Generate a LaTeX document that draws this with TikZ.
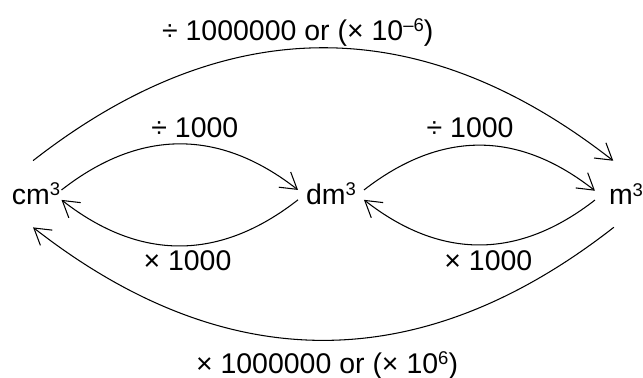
\documentclass[tikz,border=0pt]{standalone}
\usepackage{fontspec}
\setmainfont{Liberation Sans}
\usetikzlibrary{positioning,arrows.meta}
\newcommand{\expo}[1]{\raisebox{4.9pt}{\fontsize{10.5}{12}\selectfont #1}}

\begin{document}
\begin{tikzpicture}[node distance=5.9cm, on grid, >={Straight Barb[length=9pt,width=11pt]},
    font=\fontsize{16.2}{19}\selectfont, line width=0.6pt,
    unit/.style={inner ysep=12.5pt},
    lbl/.style={inner sep=0pt},
    conv/.style={->, bend left=38, looseness=1.08}]

  \useasboundingbox (0,0) rectangle (12.86,-7.56);

  % Unidades de volumen
  \node[unit, inner xsep=0.5pt] (cm3) at (0.72,-3.88) {cm\expo{3}};
  \node[unit, inner xsep=4.3pt, right=of cm3] (dm3) {dm\expo{3}};
  \node[unit, inner xsep=7.7pt, right=of dm3] (m3) {m\expo{3}};

  % Conversiones entre unidades vecinas
  \draw[conv] (cm3.9) to node[lbl, above=3.3pt, xshift=8.6pt] {÷ 1000} (dm3.173);
  \draw[conv] (dm3.190) to node[lbl, below=2.4pt, xshift=4.4pt] {× 1000} (cm3.347);
  \draw[conv] (dm3.7) to node[lbl, above=4pt, xshift=-5.4pt] {÷ 1000} (m3.174);
  \draw[conv] (m3.191) to node[lbl, below=2.8pt, xshift=5.1pt] {× 1000} (dm3.350);

  % Conversiones directas (arcos grandes)
  \draw[conv] (cm3.95) to node[lbl, above=0.8pt, xshift=-14.5pt] {÷ 1000000 or (× 10\expo{–6})} (m3.111);
  \draw[conv] (m3.250) to node[lbl, below=6.2pt, xshift=2pt] {× 1000000 or (× 10\expo{6})} (cm3.265);

\end{tikzpicture}
\end{document}
